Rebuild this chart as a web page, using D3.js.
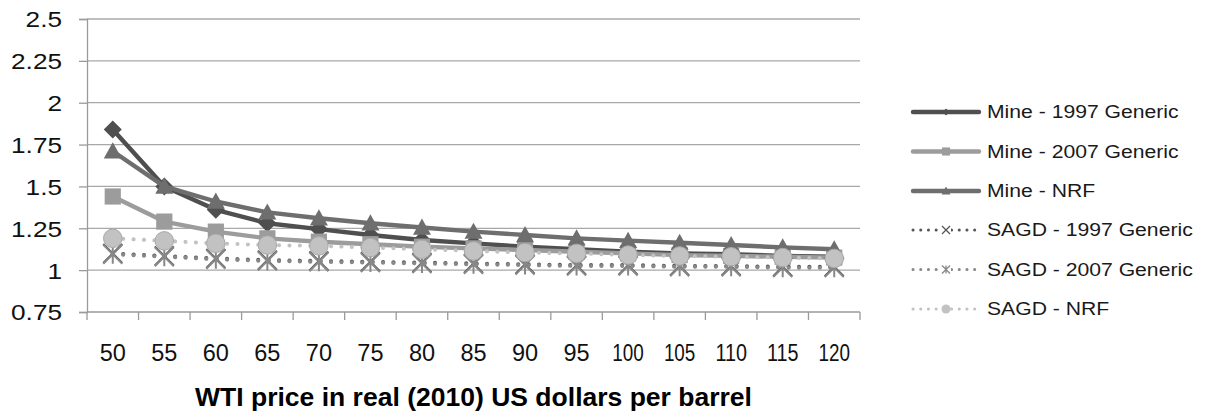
<!DOCTYPE html>
<html>
<head>
<meta charset="utf-8">
<script src="https://cdn.jsdelivr.net/npm/d3@7"></script>
<style>
  body { margin: 0; background: #fff; }
  svg { display: block; font-family: "Liberation Sans", Arial, sans-serif; }
</style>
</head>
<body>
<svg id="chart" width="1206" height="417"></svg>
<script>
// WTI price categories (real 2010 US$ per barrel)
const prices = ["50", "55", "60", "65", "70", "75", "80", "85", "90", "95", "100", "105", "110", "115", "120"];

// Value-axis ticks
const yTickValues = [0.75, 1, 1.25, 1.5, 1.75, 2, 2.25, 2.5];
const yTickLabels = ["0.75", "1", "1.25", "1.5", "1.75", "2", "2.25", "2.5"];

// Series values, one per price
const mine1997 = [1.84, 1.50, 1.36, 1.28, 1.245, 1.21, 1.18, 1.16, 1.14, 1.125, 1.11, 1.10, 1.095, 1.085, 1.08];
const mine2007 = [1.44, 1.29, 1.23, 1.19, 1.17, 1.155, 1.14, 1.13, 1.12, 1.11, 1.10, 1.09, 1.085, 1.08, 1.075];
const mineNRF  = [1.71, 1.50, 1.41, 1.345, 1.31, 1.28, 1.255, 1.23, 1.21, 1.19, 1.176, 1.164, 1.15, 1.136, 1.125];
const sagd1997 = [1.10, 1.085, 1.07, 1.06, 1.055, 1.05, 1.045, 1.04, 1.035, 1.03, 1.03, 1.025, 1.025, 1.02, 1.02];
const sagd2007 = [1.095, 1.08, 1.065, 1.055, 1.05, 1.045, 1.04, 1.035, 1.03, 1.025, 1.025, 1.02, 1.02, 1.015, 1.015];
const sagdNRF  = [1.19, 1.175, 1.16, 1.15, 1.145, 1.135, 1.125, 1.115, 1.105, 1.10, 1.09, 1.085, 1.08, 1.075, 1.07];

const seriesNames = ["Mine - 1997 Generic", "Mine - 2007 Generic", "Mine - NRF",
                     "SAGD - 1997 Generic", "SAGD - 2007 Generic", "SAGD - NRF"];
const seriesValues = [mine1997, mine2007, mineNRF, sagd1997, sagd2007, sagdNRF];

const xAxisTitle = "WTI price in real (2010) US dollars per barrel";

// Drawing styles for each series
const styles = [
  { color: "#4f4f4f", marker: "diamond",  dotted: false },
  { color: "#9c9c9c", marker: "square",   dotted: false },
  { color: "#6e6e6e", marker: "triangle", dotted: false },
  { color: "#575757", marker: "x",        dotted: true  },
  { color: "#888888", marker: "star",     dotted: true  },
  { color: "#c2c2c2", marker: "circle",   dotted: true  }
];

const svg = d3.select("#chart");
const plot = { left: 87, right: 860, top: 19, bottom: 312 };

const x = d3.scaleBand().domain(prices).range([plot.left, plot.right]).padding(0);
const cx = d => x(d) + x.bandwidth() / 2;
const y = d3.scaleLinear().domain([0.75, 2.5]).range([plot.bottom, plot.top]);

// Horizontal gridlines
svg.append("g")
  .selectAll("line")
  .data(yTickValues.filter(v => v > 0.75))
  .join("line")
  .attr("x1", plot.left).attr("x2", plot.right)
  .attr("y1", d => y(d)).attr("y2", d => y(d))
  .attr("stroke", "#a8a8a8").attr("stroke-width", 1.3);

// Value axis
const yAxis = svg.append("g")
  .attr("transform", `translate(${plot.left},0)`)
  .call(d3.axisLeft(y).tickValues(yTickValues)
    .tickFormat((d, i) => yTickLabels[i]).tickSize(8).tickPadding(17));
yAxis.select(".domain").attr("stroke", "#9a9a9a").attr("stroke-width", 1.3);
yAxis.selectAll(".tick line").attr("stroke", "#9a9a9a").attr("stroke-width", 1.3);
yAxis.selectAll(".tick text")
  .attr("font-size", 22).attr("fill", "#111").attr("dy", "0.36em")
  .attr("font-family", "Liberation Sans, Arial, sans-serif")
  .each(function () {
    const w = this.getComputedTextLength();
    d3.select(this).attr("textLength", w * 1.19).attr("lengthAdjust", "spacingAndGlyphs");
  });

// Category axis: baseline, boundary ticks and centred labels
const xAxis = svg.append("g");
xAxis.append("line")
  .attr("x1", plot.left).attr("x2", plot.right)
  .attr("y1", plot.bottom).attr("y2", plot.bottom)
  .attr("stroke", "#9a9a9a").attr("stroke-width", 1.3);
xAxis.selectAll("line.tk")
  .data(prices.map(p => x(p)).concat([plot.right]))
  .join("line").attr("class", "tk")
  .attr("x1", d => d).attr("x2", d => d)
  .attr("y1", plot.bottom).attr("y2", plot.bottom + 8)
  .attr("stroke", "#9a9a9a").attr("stroke-width", 1.3);
xAxis.selectAll("text")
  .data(prices)
  .join("text")
  .attr("x", d => cx(d)).attr("y", 361)
  .attr("text-anchor", "middle")
  .attr("font-size", 23.5).attr("fill", "#111")
  .text(d => d)
  .each(function (d) {
    if (d.length > 2) d3.select(this).attr("textLength", 31.5).attr("lengthAdjust", "spacingAndGlyphs");
  });

// Axis title
svg.append("text")
  .attr("x", (plot.left + plot.right) / 2).attr("y", 406)
  .attr("text-anchor", "middle")
  .attr("font-size", 26).attr("font-weight", "bold").attr("fill", "#000")
  .attr("textLength", 557).attr("lengthAdjust", "spacingAndGlyphs")
  .text(xAxisTitle);

// Marker shapes
function markerPath(type, s) {
  const r = s / 2;
  switch (type) {
    case "diamond":  return `M0,${-r}L${r},0L0,${r}L${-r},0Z`;
    case "square":   return `M${-r * 0.9},${-r * 0.9}H${r * 0.9}V${r * 0.9}H${-r * 0.9}Z`;
    case "triangle": return `M0,${-r}L${r},${r * 0.8}L${-r},${r * 0.8}Z`;
    case "x":        return `M${-r},${-r}L${r},${r}M${r},${-r}L${-r},${r}`;
    case "star":     return `M${-r},${-r}L${r},${r}M${r},${-r}L${-r},${r}M0,${-r}V${r}`;
    default:         return "";
  }
}

function drawMarker(g, type, color, px, py, s) {
  if (type === "circle") {
    g.append("circle").attr("cx", px).attr("cy", py).attr("r", s / 2)
      .attr("fill", color).attr("stroke", "#a9a9a9").attr("stroke-width", 1);
  } else if (type === "x" || type === "star") {
    g.append("path").attr("transform", `translate(${px},${py})`)
      .attr("d", markerPath(type, s)).attr("fill", "none")
      .attr("stroke", color).attr("stroke-width", 2);
  } else {
    g.append("path").attr("transform", `translate(${px},${py})`)
      .attr("d", markerPath(type, s)).attr("fill", color);
  }
}

const line = d3.line().x((d, i) => cx(prices[i])).y(d => y(d));

// Series: line then markers, drawn in series order
seriesValues.forEach((vals, k) => {
  const st = styles[k];
  const g = svg.append("g");
  g.append("path")
    .attr("d", line(vals))
    .attr("fill", "none")
    .attr("stroke", st.color)
    .attr("stroke-width", st.dotted ? 4 : 4.4)
    .attr("stroke-linecap", "round")
    .attr("stroke-linejoin", "round")
    .attr("stroke-dasharray", st.dotted ? "0.1 10.3" : null);
  vals.forEach((v, i) => {
    const size = st.marker === "circle" ? 18.5 : st.marker === "x" || st.marker === "star" ? 19 : 18;
    drawMarker(g, st.marker, st.color, cx(prices[i]), y(v), size);
  });
});

// Legend
const legend = svg.append("g");
const legendRows = [112, 151.5, 191, 230, 269.5, 309];
seriesNames.forEach((name, k) => {
  const st = styles[k];
  const ly = legendRows[k];
  const row = legend.append("g");
  row.append("line")
    .attr("x1", 913).attr("x2", 979).attr("y1", ly).attr("y2", ly)
    .attr("stroke", st.color)
    .attr("stroke-width", st.dotted ? 3 : 4.4)
    .attr("stroke-linecap", "round")
    .attr("stroke-dasharray", st.dotted ? "0.1 7.6" : null);
  if (st.marker === "circle") {
    row.append("circle").attr("cx", 946).attr("cy", ly).attr("r", 4.5).attr("fill", st.color);
  } else if (st.marker === "x" || st.marker === "star") {
    row.append("rect").attr("x", 941).attr("y", ly - 5).attr("width", 10).attr("height", 10).attr("fill", "#fff");
    row.append("path").attr("transform", `translate(946,${ly})`)
      .attr("d", markerPath(st.marker, 8)).attr("fill", "none")
      .attr("stroke", st.color).attr("stroke-width", 1.3);
  } else {
    row.append("path").attr("transform", `translate(946,${ly})`)
      .attr("d", markerPath(st.marker, st.marker === "diamond" ? 7 : 9)).attr("fill", st.color);
  }
  row.append("text")
    .attr("x", 987).attr("y", ly).attr("dy", "0.36em")
    .attr("font-size", 18).attr("fill", "#1a1a1a")
    .text(name)
    .each(function () {
      const w = this.getComputedTextLength();
      d3.select(this).attr("textLength", w * 1.175).attr("lengthAdjust", "spacingAndGlyphs");
    });
});
</script>
</body>
</html>
